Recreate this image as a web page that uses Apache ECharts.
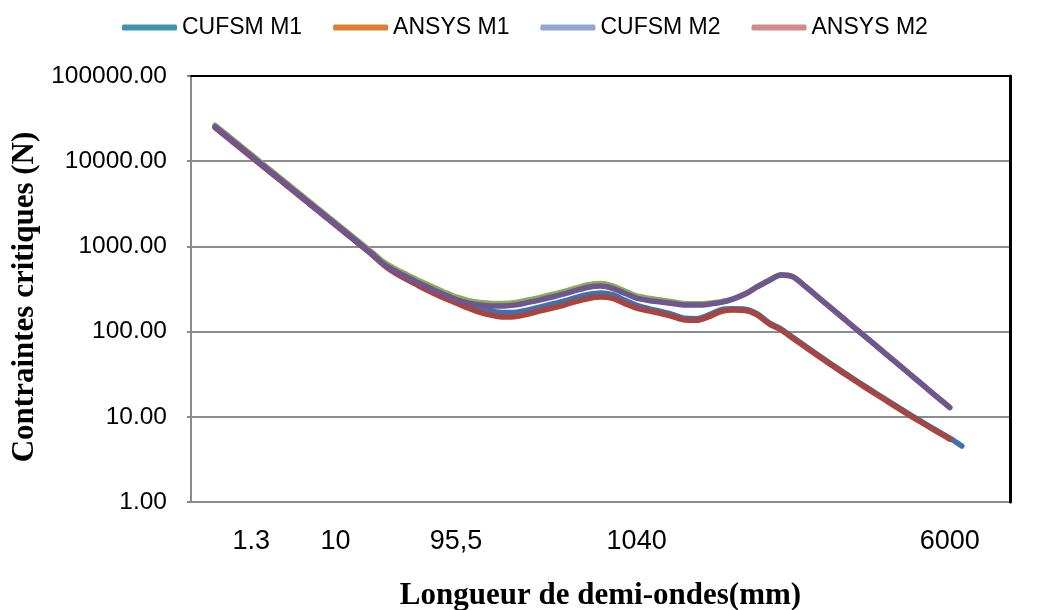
<!DOCTYPE html>
<html>
<head>
<meta charset="utf-8">
<script src="https://cdn.jsdelivr.net/npm/echarts@6/dist/echarts.min.js"></script>
<style>
  html, body { margin: 0; padding: 0; background: #fff; }
  #chart { width: 1040px; height: 610px; }
</style>
</head>
<body>
<div id="chart"></div>
<script>
// x positions are category slots (half-wave lengths), only a few carry a label
const slotCount = 69;
const tickSlots = [5, 12, 22, 37, 63];
const tickLabels = ['1.3', '10', '95,5', '1040', '6000'];
const firstSlot = 2; // curves start on slot 2

// critical loads (N), from slot 2 onwards
const cufsmM1 = [25000, 19250, 14780, 11360, 8720, 6710, 5160, 3960, 3050, 2340,
  1800, 1382, 1063, 814, 612, 490, 412, 348, 298, 260,
  232, 207, 188, 174, 167, 169, 180, 195, 211, 229,
  252, 272, 283, 271, 234, 204, 186, 172, 158, 143,
  142, 157, 180, 185, 183, 162, 127, 107, 85.0, 67.6,
  54.0, 43.1, 34.6, 27.9, 22.6, 18.4, 15.0, 12.2, 10.0, 8.23,
  6.79, 5.62, 4.54];
const ansysM1 = [24800, 19050, 14600, 11250, 8630, 6640, 5110, 3920, 3020, 2315,
  1782, 1368, 1052, 805, 605, 481, 403, 338, 288, 248,
  217, 189, 168, 155, 148, 150, 161, 175, 189, 205,
  226, 245, 255, 245, 214, 189, 175, 163, 150, 137,
  136, 150, 172, 179, 177, 157, 123, 104.4, 82.8, 65.8,
  52.6, 42.0, 33.7, 27.2, 22.0, 17.9, 14.6, 11.9, 9.73, 8.01,
  6.61, 5.47];
const cufsmM2 = [26400, 20300, 15600, 12000, 9200, 7080, 5450, 4180, 3220, 2470,
  1900, 1460, 1122, 862, 655, 540, 460, 392, 338, 292,
  255, 232, 219, 214, 214, 220, 235, 252, 273, 296,
  325, 355, 366, 345, 300, 262, 246, 235, 224, 213,
  212, 215, 224, 243, 278, 336, 400, 464, 439, 341,
  259, 197.5, 150.3, 114.5, 87.1, 66.3, 50.5, 38.4, 29.2, 22.2,
  16.9, 12.9];
const ansysM2 = [25400, 19540, 15000, 11530, 8850, 6810, 5240, 4020, 3095, 2375,
  1828, 1403, 1079, 826, 622, 508, 432, 367, 316, 273,
  238, 217, 205, 200, 200, 206, 220, 236, 255, 277,
  304, 332, 342, 322, 282, 247, 232, 223, 214, 205,
  205, 210, 220, 241, 276, 334, 398, 462, 437, 339,
  258, 196.5, 149.6, 113.9, 86.7, 66.0, 50.2, 38.2, 29.1, 22.1,
  16.8, 12.8];

const seriesNames = ['CUFSM M1', 'ANSYS M1', 'CUFSM M2', 'ANSYS M2'];
const seriesValues = [cufsmM1, ansysM1, cufsmM2, ansysM2];
const lineColors = ['#3E71AD', '#A9443F', '#8AAE55', '#6F5691'];
const legendColors = ['#3E94AD', '#DE7E33', '#8EA8D1', '#D08B8B'];

const slots = [];
for (let i = 0; i < slotCount; i++) slots.push(String(i));
const pad = new Array(firstSlot).fill(null);

const chart = echarts.init(document.getElementById('chart'));

chart.setOption({
  animation: false,
  backgroundColor: '#fff',
  textStyle: { fontFamily: 'Liberation Sans, Arial, sans-serif' },
  legend: {
    top: 11,
    left: 117,
    icon: 'roundRect',
    itemWidth: 55,
    itemHeight: 6,
    itemGap: 31,
    textStyle: { fontSize: 23, color: '#000' },
    data: seriesNames.map((n, k) => ({
      name: n,
      itemStyle: { color: legendColors[k] }
    }))
  },
  grid: { left: 191, right: 30, top: 76, bottom: 108, outerBoundsMode: 'none' },
  xAxis: [
    {
      type: 'category',
      data: slots,
      boundaryGap: false,
      z: 1,
      axisLine: { lineStyle: { color: '#8a8a8a', width: 2 } },
      axisTick: { show: false },
      splitLine: { show: false },
      axisLabel: {
        interval: 0,
        margin: 26,
        fontSize: 27,
        color: '#000',
        formatter: (v, i) => {
          const k = tickSlots.indexOf(i);
          return k >= 0 ? tickLabels[k] : '';
        }
      },
      name: 'Longueur de demi-ondes(mm)',
      nameLocation: 'middle',
      nameGap: 78,
      nameTextStyle: { fontFamily: 'Liberation Serif, serif', fontWeight: 'bold', fontSize: 31, color: '#000' }
    },
    {
      type: 'category',
      data: slots,
      boundaryGap: false,
      position: 'top',
      z: 5,
      axisLine: { lineStyle: { color: '#000', width: 2 } },
      axisTick: { show: false },
      axisLabel: { show: false },
      splitLine: { show: false }
    }
  ],
  yAxis: [
    {
      type: 'log',
      logBase: 10,
      min: 1,
      max: 100000,
      z: 1,
      axisLine: { show: true, lineStyle: { color: '#8a8a8a', width: 2 } },
      axisTick: { show: true, length: 4, lineStyle: { color: '#8a8a8a', width: 2 } },
      splitLine: { lineStyle: { color: '#8c8c8c', width: 2 } },
      axisLabel: {
        margin: 24,
        fontSize: 24.5,
        color: '#000',
        formatter: v => Number(v).toFixed(2)
      },
      name: 'Contraintes critiques (N)',
      nameLocation: 'middle',
      nameGap: 143,
      nameTextStyle: {
        fontFamily: 'Liberation Serif, serif', fontWeight: 'bold', fontSize: 31, color: '#000',
        padding: [0, 16, 0, 0]
      }
    },
    {
      type: 'log',
      logBase: 10,
      min: 1,
      max: 100000,
      position: 'right',
      z: 5,
      axisLine: { show: true, lineStyle: { color: '#000', width: 3 } },
      axisTick: { show: false },
      axisLabel: { show: false },
      splitLine: { show: false }
    }
  ],
  series: seriesNames.map((n, k) => ({
    name: n,
    type: 'line',
    xAxisIndex: 0,
    yAxisIndex: 0,
    data: pad.concat(seriesValues[k]),
    smooth: 0.3,
    symbol: 'none',
    showSymbol: false,
    lineStyle: { width: 5.5, color: lineColors[k], cap: 'round', join: 'round' },
    itemStyle: { color: lineColors[k] }
  }))
});
</script>
</body>
</html>
